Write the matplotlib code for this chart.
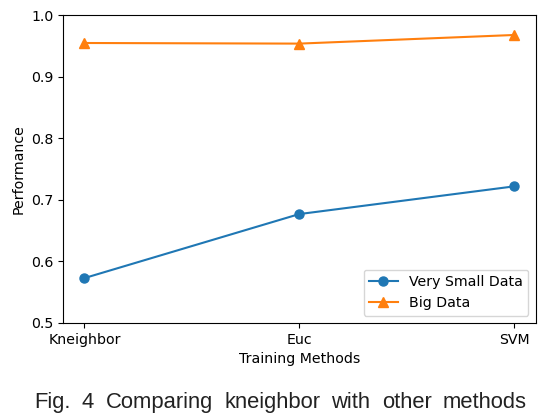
import matplotlib
matplotlib.use("Agg")
import matplotlib.pyplot as plt

methods = ["Kneighbor", "Euc", "SVM"]
very_small = [0.573, 0.677, 0.722]
big_data = [0.955, 0.954, 0.968]
caption_words = ["Fig.", "4", "Comparing", "kneighbor", "with", "other", "methods"]

plt.rcParams['font.family'] = ['DejaVu Sans']
W, H = 556, 420
fig = plt.figure(figsize=(5.56, 4.2), dpi=100)
ax = fig.add_axes([63/W, 1 - 323/H, (535.5-63)/W, (323-15.3)/H])
ax.plot(methods, very_small, marker='o', color='#1f77b4', label='Very Small Data', markersize=6.5, linewidth=1.5)
ax.plot(methods, big_data, marker='^', color='#ff7f0e', label='Big Data', markersize=6.5, linewidth=1.5)
ax.set_ylim(0.5, 1.0)
ax.set_yticks([0.5, 0.6, 0.7, 0.8, 0.9, 1.0])
ax.tick_params(labelsize=10.2)
ax.set_xlabel('Training Methods', fontsize=10.2)
ax.set_ylabel('Performance', fontsize=10.2)
ax.legend(loc='lower right', fontsize=10.2)

# justified caption between x=34 and x=527 (pixels)
renderer = fig.canvas.get_renderer()
texts = [fig.text(0, 1 - 408 / H, w, ha='left', va='baseline', fontsize=15.8,
                  family=['Liberation Sans', 'DejaVu Sans'], color='#222222')
         for w in caption_words]
widths = [t.get_window_extent(renderer).width for t in texts]
left, right = 34, 527
gap = (right - left - sum(widths)) / (len(texts) - 1)
x = left
for t, w in zip(texts, widths):
    t.set_x(x / W)
    x += w + gap
fig.savefig('out.png', dpi=100)
